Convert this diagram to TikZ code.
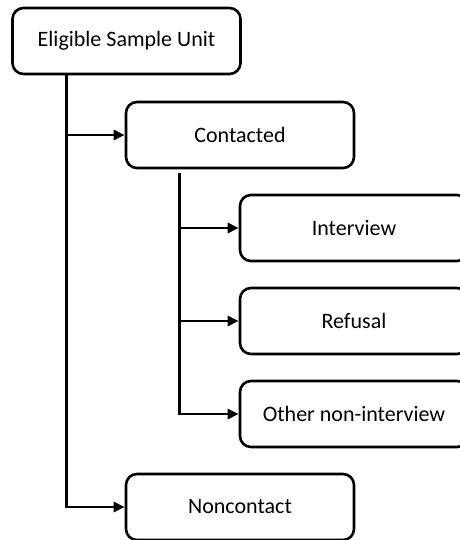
\documentclass[tikz,border=0pt]{standalone}
\usepackage{fontspec}
\setmainfont{Carlito}
\usetikzlibrary{arrows.meta,calc}

\tikzset{
  unitbox/.style={draw, line width=2.6pt, rounded corners=11pt,
    minimum width=228pt, minimum height=66pt, inner sep=0pt,
    font=\fontsize{22}{26}\selectfont},
  flow/.style={line width=2.6pt, -{Triangle[length=11pt,width=10pt]}},
}

\begin{document}
\begin{tikzpicture}[x=1pt,y=-1pt]

 \useasboundingbox (0,0) rectangle (459,540); % page frame

 \node[unitbox] (elig)      at (126.5,41) {Eligible Sample Unit};
 \node[unitbox] (contacted) at (240,135)   {Contacted};
 \node[unitbox] (interview) at (354,228)   {Interview};
 \node[unitbox] (refusal)   at (354,321)   {Refusal};
 \node[unitbox] (othernon)  at (354,414)   {Other non-interview};
 \node[unitbox] (noncon)    at (240,507)   {Noncontact};

% first level: eligible unit splits in two
 \coordinate (trunkA) at ($(elig.south west)+(55,0)$);
 \draw[flow] (trunkA) |- (noncon.west);
 \draw[flow] (trunkA |- contacted.west) -- (contacted.west);

% second level: outcomes of a contact
 \coordinate (trunkB) at ($(contacted.south west)+(55,4)$);
 \draw[flow] (trunkB) |- (othernon.west);
 \draw[flow] (trunkB |- interview.west) -- (interview.west);
 \draw[flow] (trunkB |- refusal.west) -- (refusal.west);

\end{tikzpicture}
\end{document}
